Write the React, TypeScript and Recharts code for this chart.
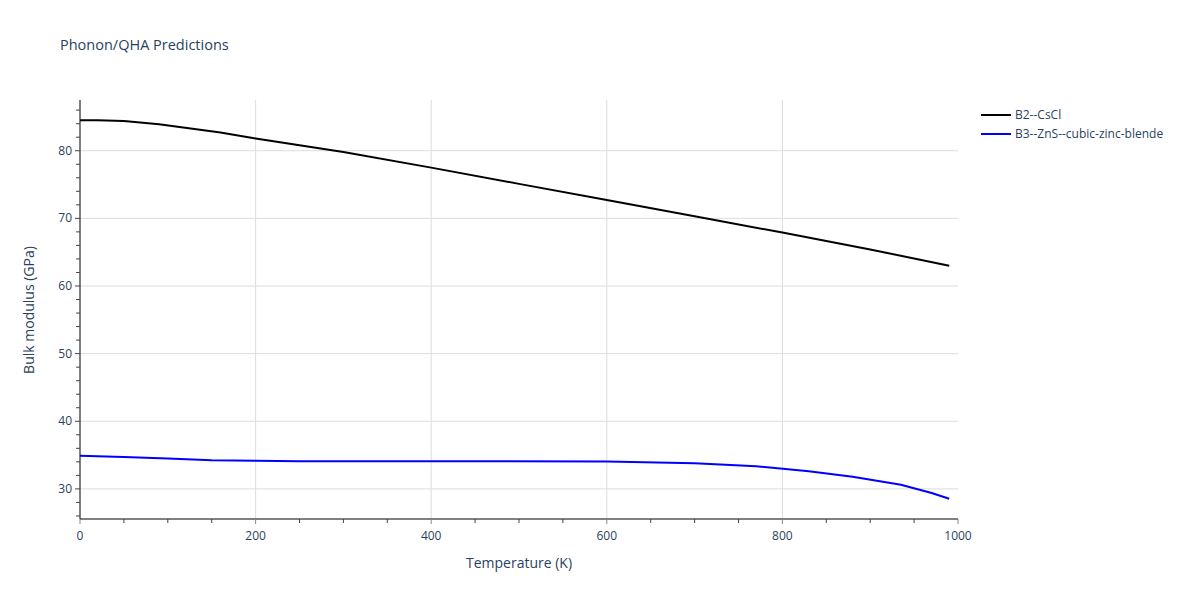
import React from 'react';
import { LineChart, Line, XAxis, YAxis, CartesianGrid, ReferenceLine } from 'recharts';

const csclTemps = [0, 20, 50, 90, 160, 200, 300, 400, 500, 600, 700, 800, 900, 990];
const csclModulus = [84.5, 84.5, 84.4, 83.9, 82.7, 81.8, 79.8, 77.5, 75.1, 72.7, 70.3, 67.9, 65.4, 63.0];

const znsTemps = [0, 50, 100, 150, 200, 250, 400, 600, 700, 770, 830, 880, 935, 970, 990];
const znsModulus = [34.9, 34.7, 34.5, 34.25, 34.15, 34.08, 34.1, 34.05, 33.8, 33.35, 32.6, 31.8, 30.6, 29.4, 28.55];

const xTicks = [0, 50, 100, 150, 200, 250, 300, 350, 400, 450, 500, 550, 600, 650, 700, 750, 800, 850, 900, 950, 1000];
const xGrid = [200, 400, 600, 800];
const yTicks = [26, 28, 30, 32, 34, 36, 38, 40, 42, 44, 46, 48, 50, 52, 54, 56, 58, 60, 62, 64, 66, 68, 70, 72, 74, 76, 78, 80, 82, 84, 86];
const yGrid = [30, 40, 50, 60, 70, 80];

const seriesNames = ['B2--CsCl', 'B3--ZnS--cubic-zinc-blende'];
const seriesColors = ['#000000', '#0000ff'];

const csclData = csclTemps.map((t, i) => ({ t, v: csclModulus[i] }));
const znsData = znsTemps.map((t, i) => ({ t, v: znsModulus[i] }));

const font = '"Open Sans", "Noto Sans", sans-serif';
const textColor = '#2a3f5f';

const XTick = (props: any) => {
  const { x, y, payload } = props;
  const major = payload.value % 200 === 0;
  return (
    <g>
      <line x1={x} y1={y} x2={x} y2={y + (major ? 5 : 4)} stroke={major ? '#888' : '#444'} />
      {major && (
        <text x={x} y={y + 21} textAnchor="middle" fill={textColor} fontSize={12} fontFamily={font}>
          {payload.value}
        </text>
      )}
    </g>
  );
};

const YTick = (props: any) => {
  const { x, y, payload } = props;
  const major = payload.value % 10 === 0;
  return (
    <g>
      <line x1={x} y1={y} x2={x - (major ? 5 : 4)} y2={y} stroke="#444" />
      {major && (
        <text x={x - 8} y={y + 4} textAnchor="end" fill={textColor} fontSize={12} fontFamily={font}>
          {payload.value}
        </text>
      )}
    </g>
  );
};

export default function App() {
  return (
    <div style={{ position: 'absolute', left: 0, top: 0, width: 1200, height: 600, background: '#fff' }}>
      <LineChart width={1200} height={600} margin={{ top: 100, right: 242, bottom: 41, left: 40 }}>
        <CartesianGrid horizontal={false} vertical={false} />
        {yGrid.map((v) => (
          <ReferenceLine key={'y' + v} y={v} stroke="#dddddd" strokeWidth={1} />
        ))}
        {xGrid.map((v) => (
          <ReferenceLine key={'x' + v} x={v} stroke="#dddddd" strokeWidth={1} />
        ))}
        <XAxis
          type="number"
          dataKey="t"
          domain={[0, 1000]}
          ticks={xTicks}
          interval={0}
          height={40}
          tickSize={0}
          tickMargin={0}
          tickLine={false}
          axisLine={{ stroke: '#000', strokeWidth: 1 }}
          tick={<XTick />}
          allowDataOverflow
        />
        <YAxis
          type="number"
          dataKey="v"
          domain={[25.55, 87.5]}
          ticks={yTicks}
          interval={0}
          width={40}
          tickSize={0}
          tickMargin={0}
          tickLine={false}
          axisLine={{ stroke: '#000', strokeWidth: 1 }}
          tick={<YTick />}
          allowDataOverflow
        />
        <Line
          data={csclData}
          dataKey="v"
          name={seriesNames[0]}
          type="linear"
          stroke={seriesColors[0]}
          strokeWidth={2}
          dot={false}
          isAnimationActive={false}
        />
        <Line
          data={znsData}
          dataKey="v"
          name={seriesNames[1]}
          type="linear"
          stroke={seriesColors[1]}
          strokeWidth={2}
          dot={false}
          isAnimationActive={false}
        />
      </LineChart>
      <div style={{ position: 'absolute', left: 980, top: 105, fontFamily: font, fontSize: 12, color: textColor }}>
        {seriesNames.map((name, i) => (
          <div key={name} style={{ display: 'flex', alignItems: 'center', height: 19 }}>
            <svg width={35} height={10}>
              <line x1={1} y1={5} x2={31} y2={5} stroke={seriesColors[i]} strokeWidth={2} />
            </svg>
            <span>{name}</span>
          </div>
        ))}
      </div>
      <div style={{ position: 'absolute', left: 60, top: 35, fontFamily: font, fontSize: 14.5, color: textColor }}>
        Phonon/QHA Predictions
      </div>
      <div style={{ position: 'absolute', left: 80, width: 878, top: 553, textAlign: 'center', fontFamily: font, fontSize: 14, color: textColor }}>
        Temperature (K)
      </div>
      <div
        style={{
          position: 'absolute',
          left: 28,
          top: 310,
          transform: 'translate(-50%, -50%) rotate(-90deg)',
          whiteSpace: 'nowrap',
          fontFamily: font,
          fontSize: 14,
          color: textColor,
        }}
      >
        Bulk modulus (GPa)
      </div>
    </div>
  );
}
